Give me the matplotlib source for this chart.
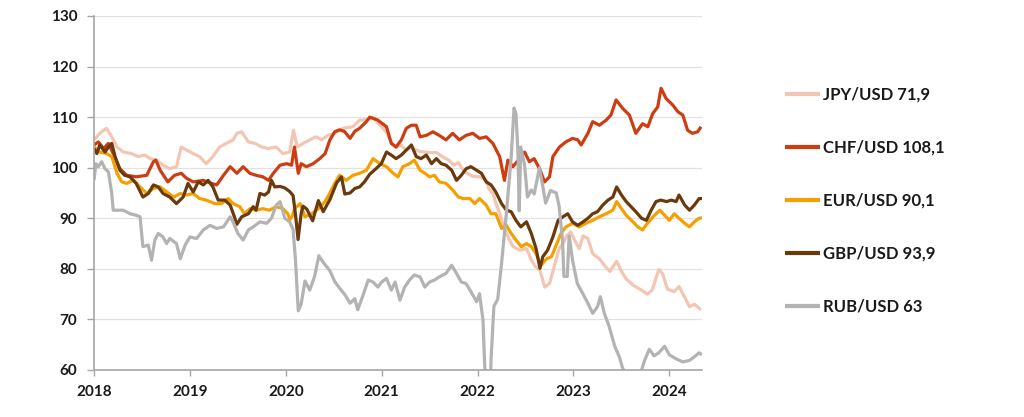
import numpy as np
import matplotlib
matplotlib.use("Agg")
import matplotlib.pyplot as plt

plt.rcParams['font.family'] = ['Lato', 'DejaVu Sans']
plt.rcParams['font.weight'] = 'bold'

# ---- data (time in years since 2018-01-01) ----
jpy_t = [0.00, 0.06, 0.13, 0.185, 0.24, 0.305, 0.39, 0.46, 0.53, 0.585, 0.65, 0.72, 0.79, 0.86, 0.91, 0.965,
         1.035, 1.10, 1.17, 1.24, 1.31, 1.38, 1.45, 1.49, 1.54, 1.61, 1.68, 1.75, 1.82, 1.90, 1.97, 2.04,
         2.08, 2.12, 2.18, 2.25, 2.29, 2.32, 2.37, 2.44, 2.51, 2.60, 2.70, 2.77, 2.84, 2.91, 2.98, 3.05,
         3.10, 3.15, 3.20, 3.25, 3.30, 3.40, 3.50, 3.57, 3.65, 3.70, 3.75, 3.80, 3.85, 3.88, 3.95, 4.02,
         4.09, 4.12, 4.16, 4.19, 4.23, 4.26, 4.30, 4.33, 4.37, 4.44, 4.51, 4.56, 4.60, 4.65, 4.70, 4.75,
         4.80, 4.85, 4.89, 4.93, 4.97, 5.01, 5.06, 5.10, 5.15, 5.20, 5.27, 5.33, 5.38, 5.45, 5.50, 5.55,
         5.62, 5.70, 5.77, 5.82, 5.89, 5.93, 5.98, 6.05, 6.10, 6.17, 6.21, 6.26, 6.33]
jpy_v = [105.5, 106.8, 107.8, 106.1, 104.1, 103.1, 102.8, 102.2, 102.5, 101.8, 101.5, 100.5, 99.8, 100.2, 104.1, 103.5,
         102.8, 102.2, 100.8, 102.2, 104.1, 104.8, 105.5, 106.8, 107.1, 105.1, 104.8, 104.1, 103.8, 104.1, 102.8, 103.1,
         107.4, 104.1, 104.8, 105.5, 105.9, 106.1, 105.5, 106.4, 106.8, 107.8, 108.1, 109.4, 109.5, 109.8, 108.5, 107.0,
         105.0, 104.0, 104.5, 103.5, 104.0, 103.2, 103.0, 103.0, 102.0, 101.5, 100.5, 101.0, 99.5, 99.0, 98.3, 98.2,
         97.5, 95.7, 94.9, 93.0, 91.0, 89.0, 87.0, 85.8, 84.4, 83.7, 84.0, 81.8, 80.5, 79.7, 76.4, 77.1,
         80.5, 84.0, 85.0, 86.5, 87.3, 85.7, 84.0, 86.5, 86.0, 83.0, 82.0, 80.5, 79.5, 81.5, 79.5, 78.0,
         76.8, 75.9, 75.0, 75.8, 79.9, 79.0, 76.0, 75.5, 76.5, 74.0, 72.5, 73.0, 71.9]

chf_t = [0.00, 0.045, 0.10, 0.15, 0.20, 0.27, 0.34, 0.44, 0.55, 0.62, 0.645, 0.69, 0.77, 0.84, 0.91, 0.965,
         1.035, 1.14, 1.225, 1.28, 1.35, 1.42, 1.49, 1.555, 1.625, 1.69, 1.76, 1.82, 1.87, 1.94, 2.01, 2.06,
         2.09, 2.13, 2.16, 2.215, 2.285, 2.354, 2.41, 2.46, 2.51, 2.56, 2.61, 2.67, 2.72, 2.77, 2.84, 2.875,
         2.92, 2.96, 3.05, 3.10, 3.15, 3.205, 3.257, 3.31, 3.36, 3.40, 3.465, 3.535, 3.60, 3.67, 3.74, 3.81,
         3.88, 3.95, 4.02, 4.09, 4.16, 4.23, 4.28, 4.316, 4.368, 4.438, 4.49, 4.54, 4.59, 4.646, 4.698, 4.75,
         4.785, 4.854, 4.92, 4.99, 5.045, 5.08, 5.15, 5.20, 5.27, 5.34, 5.39, 5.444, 5.514, 5.583, 5.65, 5.72,
         5.775, 5.826, 5.878, 5.913, 5.965, 6.035, 6.087, 6.14, 6.19, 6.24, 6.295, 6.33]
chf_v = [104.5, 105.1, 103.8, 104.8, 102.8, 99.8, 98.5, 98.2, 98.5, 101.2, 101.5, 99.5, 97.2, 98.5, 98.9, 97.9,
         97.2, 97.5, 96.9, 96.6, 98.5, 100.2, 98.9, 100.2, 98.9, 98.5, 98.2, 97.5, 98.9, 100.5, 100.8, 100.5,
         104.1, 98.9, 100.8, 100.2, 100.8, 101.8, 102.8, 105.5, 107.1, 107.5, 107.2, 105.8, 107.2, 107.8, 109.1, 110.0,
         109.7, 109.4, 108.1, 104.8, 104.1, 105.5, 107.8, 108.4, 108.4, 106.1, 106.4, 107.1, 106.4, 105.5, 106.8, 105.5,
         106.4, 106.8, 105.8, 106.1, 104.8, 102.2, 97.5, 101.5, 100.2, 101.8, 103.1, 101.2, 101.8, 99.8, 97.2, 98.2,
         102.2, 104.1, 105.1, 105.8, 105.5, 104.5, 106.8, 109.1, 108.4, 109.4, 110.4, 113.4, 111.7, 110.4, 106.8, 108.7,
         108.1, 110.7, 112.0, 115.7, 113.7, 112.4, 111.1, 110.4, 107.4, 106.8, 107.1, 108.1]

eur_t = [0.00, 0.06, 0.13, 0.185, 0.24, 0.29, 0.34, 0.41, 0.48, 0.55, 0.62, 0.69, 0.76, 0.83, 0.90, 0.965,
         1.035, 1.10, 1.17, 1.26, 1.33, 1.40, 1.45, 1.52, 1.57, 1.625, 1.69, 1.76, 1.83, 1.90, 1.97, 2.02,
         2.045, 2.07, 2.09, 2.15, 2.20, 2.27, 2.34, 2.41, 2.46, 2.51, 2.56, 2.63, 2.70, 2.77, 2.84, 2.91,
         2.98, 3.05, 3.12, 3.17, 3.22, 3.29, 3.34, 3.40, 3.45, 3.50, 3.55, 3.60, 3.67, 3.74, 3.80, 3.85,
         3.92, 3.97, 4.02, 4.09, 4.14, 4.19, 4.25, 4.30, 4.35, 4.40, 4.455, 4.51, 4.56, 4.61, 4.66, 4.72,
         4.77, 4.82, 4.87, 4.92, 4.99, 5.06, 5.13, 5.20, 5.27, 5.34, 5.41, 5.45, 5.50, 5.55, 5.62, 5.67,
         5.72, 5.77, 5.83, 5.90, 5.95, 6.00, 6.05, 6.10, 6.16, 6.21, 6.26, 6.31, 6.34]
eur_v = [104.1, 103.1, 102.8, 102.2, 98.9, 97.2, 96.9, 97.5, 96.2, 94.9, 95.9, 96.2, 95.2, 94.2, 94.9, 94.6,
         94.9, 93.9, 93.6, 92.9, 92.9, 93.9, 92.9, 92.3, 90.9, 91.9, 91.6, 91.9, 91.6, 92.3, 91.9, 90.9,
         89.8, 90.5, 91.9, 92.9, 90.3, 90.9, 91.9, 93.3, 95.0, 96.9, 98.5, 97.5, 98.5, 98.9, 99.5, 101.8,
         100.8, 100.2, 98.9, 98.2, 100.2, 100.8, 101.5, 99.5, 98.9, 98.2, 98.5, 97.2, 96.9, 95.6, 94.2, 93.9,
         93.9, 92.9, 93.9, 92.6, 90.9, 90.9, 88.0, 88.6, 87.0, 85.7, 84.4, 85.0, 84.4, 83.0, 80.7, 82.0,
         82.4, 84.7, 87.0, 88.3, 89.0, 88.3, 89.0, 89.6, 90.3, 90.9, 91.6, 93.3, 91.9, 90.6, 89.3, 88.3,
         87.7, 89.0, 90.3, 91.6, 90.6, 89.6, 90.9, 90.0, 89.0, 88.3, 89.3, 90.0, 90.1]

gbp_t = [0.00, 0.03, 0.06, 0.115, 0.15, 0.185, 0.22, 0.27, 0.32, 0.375, 0.44, 0.51, 0.566, 0.62, 0.67, 0.72,
         0.79, 0.86, 0.93, 0.98, 1.035, 1.087, 1.14, 1.19, 1.24, 1.295, 1.365, 1.42, 1.46, 1.49, 1.54, 1.61,
         1.66, 1.69, 1.73, 1.78, 1.82, 1.85, 1.885, 1.94, 1.99, 2.04, 2.076, 2.10, 2.128, 2.16, 2.18, 2.22,
         2.28, 2.34, 2.39, 2.46, 2.53, 2.58, 2.615, 2.67, 2.72, 2.77, 2.82, 2.875, 2.94, 2.996, 3.05, 3.10,
         3.15, 3.205, 3.257, 3.31, 3.36, 3.41, 3.465, 3.52, 3.57, 3.62, 3.67, 3.73, 3.78, 3.83, 3.88, 3.93,
         3.99, 4.04, 4.09, 4.14, 4.19, 4.25, 4.30, 4.35, 4.40, 4.45, 4.51, 4.56, 4.61, 4.65, 4.68, 4.73,
         4.785, 4.84, 4.89, 4.94, 4.99, 5.045, 5.10, 5.15, 5.20, 5.25, 5.305, 5.36, 5.41, 5.45, 5.50, 5.55,
         5.60, 5.65, 5.71, 5.76, 5.81, 5.86, 5.91, 5.97, 6.02, 6.07, 6.10, 6.16, 6.21, 6.26, 6.31, 6.34]
gbp_v = [103.8, 102.8, 104.5, 103.1, 104.1, 104.8, 102.2, 99.5, 98.5, 98.2, 96.9, 94.2, 94.9, 96.6, 96.2, 94.9,
         94.2, 92.9, 94.2, 96.9, 95.2, 97.2, 96.6, 97.5, 96.2, 93.6, 93.6, 92.6, 90.5, 88.8, 90.3, 90.9,
         92.3, 91.6, 94.9, 94.6, 95.2, 97.5, 96.2, 96.3, 96.0, 95.3, 94.5, 90.9, 85.8, 90.9, 92.4, 91.8,
         89.5, 93.5, 91.3, 93.7, 97.0, 98.2, 94.8, 95.0, 95.9, 96.2, 97.2, 98.7, 99.8, 100.8, 103.1, 102.5,
         101.8, 102.5, 103.5, 104.5, 102.2, 101.8, 102.5, 100.8, 101.8, 100.8, 100.5, 99.5, 97.5, 98.5, 99.8, 100.2,
         99.5, 98.9, 97.2, 96.6, 95.2, 92.9, 91.6, 91.3, 89.6, 88.3, 89.3, 87.0, 84.0, 80.1, 82.4, 83.7,
         86.3, 89.6, 90.3, 90.9, 89.3, 88.6, 89.3, 90.0, 90.9, 91.3, 92.6, 93.6, 94.2, 96.2, 94.6, 93.3,
         92.3, 91.3, 90.0, 89.6, 91.6, 93.3, 93.6, 93.3, 93.6, 93.3, 94.6, 92.6, 91.6, 92.6, 93.9, 93.9]

rub_t = [0.00, 0.02, 0.045, 0.08, 0.115, 0.15, 0.185, 0.20, 0.24, 0.305, 0.375, 0.44, 0.48, 0.51, 0.566, 0.60,
         0.635, 0.67, 0.72, 0.757, 0.79, 0.86, 0.90, 0.95, 1.00, 1.07, 1.14, 1.21, 1.28, 1.35, 1.42, 1.45,
         1.50, 1.555, 1.61, 1.66, 1.73, 1.80, 1.85, 1.90, 1.94, 1.99, 2.04, 2.076, 2.10, 2.13, 2.16, 2.20,
         2.25, 2.30, 2.345, 2.39, 2.46, 2.51, 2.56, 2.62, 2.67, 2.72, 2.75, 2.80, 2.86, 2.91, 2.96, 3.00,
         3.05, 3.10, 3.14, 3.19, 3.24, 3.29, 3.34, 3.40, 3.45, 3.50, 3.55, 3.60, 3.67, 3.73, 3.78, 3.83,
         3.88, 3.93, 3.99, 4.02, 4.056, 4.08, 4.11, 4.13, 4.14, 4.17, 4.21, 4.25, 4.30, 4.35, 4.38, 4.40,
         4.42, 4.434, 4.45, 4.49, 4.52, 4.56, 4.59, 4.645, 4.68, 4.71, 4.76, 4.82, 4.85, 4.885, 4.90, 4.935,
         4.955, 4.99, 5.04, 5.10, 5.15, 5.20, 5.25, 5.28, 5.32, 5.37, 5.43, 5.48, 5.51, 5.56, 5.69, 5.74,
         5.79, 5.84, 5.89, 5.95, 6.00, 6.07, 6.14, 6.21, 6.26, 6.31, 6.34]
rub_v = [97.5, 100.8, 100.2, 101.2, 99.8, 99.2, 94.9, 91.6, 91.6, 91.6, 90.9, 90.6, 90.3, 84.4, 84.7, 81.7,
         85.7, 87.0, 86.3, 85.0, 86.0, 85.0, 82.0, 84.7, 86.3, 86.0, 87.7, 88.6, 88.0, 88.3, 90.3, 89.3,
         87.0, 85.7, 87.7, 88.3, 89.3, 89.0, 90.0, 92.6, 93.3, 90.0, 89.3, 87.8, 82.0, 71.7, 73.0, 77.6,
         75.8, 78.5, 82.6, 81.3, 79.6, 77.5, 76.2, 74.8, 73.2, 74.1, 71.9, 74.5, 77.8, 77.4, 76.4, 77.4,
         78.1, 75.8, 77.4, 73.8, 76.4, 77.8, 78.8, 78.4, 76.4, 77.4, 77.8, 78.4, 79.1, 80.7, 79.1, 77.4,
         77.1, 75.5, 73.5, 75.1, 69.9, 58.0, 50.0, 55.0, 62.0, 72.6, 74.0, 81.1, 91.0, 102.0, 111.8, 110.7,
         103.5, 91.5, 104.1, 100.5, 94.2, 95.6, 94.8, 100.0, 96.3, 93.0, 95.5, 95.0, 92.4, 85.8, 78.5, 78.5,
         86.5, 81.7, 77.1, 75.0, 73.2, 71.2, 72.5, 74.5, 71.3, 68.7, 64.7, 62.5, 60.5, 58.5, 58.8, 61.8,
         64.1, 62.8, 63.4, 64.7, 63.0, 62.2, 61.6, 61.9, 62.6, 63.4, 63.0]

labels = ["JPY/USD 71,9", "CHF/USD 108,1", "EUR/USD 90,1", "GBP/USD 93,9", "RUB/USD 63"]
colors = ["#F3C6B3", "#CC3D12", "#F5A000", "#6B3A0C", "#B3B3B3"]
start_year = 2018
years = [2018, 2019, 2020, 2021, 2022, 2023, 2024]
yticks = [60, 70, 80, 90, 100, 110, 120, 130]

series = [(jpy_t, jpy_v), (chf_t, chf_v), (eur_t, eur_v), (gbp_t, gbp_v), (rub_t, rub_v)]

fig = plt.figure(figsize=(10.24, 4.17), dpi=100)
ax = fig.add_axes([94/1024, 1 - 370/417, (702 - 94)/1024, (370 - 16)/417])

for (t, v), c, lab in zip(series, colors, labels):
    ax.plot(start_year + np.array(t), v, color=c, lw=2.3, label=lab,
            solid_joinstyle='round', solid_capstyle='butt')

ax.set_ylim(60, 130)
ax.set_xlim(2018, 2024.34)
ax.set_yticks(yticks)
ax.set_xticks(years)
ax.set_xticklabels([str(y) for y in years])
ax.yaxis.grid(True, color='#E2E2E2', lw=0.9)
ax.set_axisbelow(True)
for s in ['top', 'right']:
    ax.spines[s].set_visible(False)
for s in ['left', 'bottom']:
    ax.spines[s].set_color('#A6A6A6')
    ax.spines[s].set_linewidth(1.2)
ax.tick_params(axis='y', length=5, color='#A6A6A6', width=1, pad=7, labelsize=11, labelcolor='#1a1a1a')
ax.tick_params(axis='x', length=4, color='#A6A6A6', width=1, pad=7, labelsize=11, labelcolor='#1a1a1a')
for lbl in ax.get_xticklabels() + ax.get_yticklabels():
    lbl.set_fontweight('bold')

leg = fig.legend(loc='upper left', bbox_to_anchor=(785/1024, 1 - 87/417), frameon=False,
                 handlelength=2.1, handletextpad=0.2, labelspacing=2.22, borderpad=0,
                 borderaxespad=0, prop={'family': ['Lato', 'DejaVu Sans'], 'weight': 'bold', 'size': 12})
for h in leg.get_lines():
    h.set_linewidth(3)
for txt in leg.get_texts():
    txt.set_color('#1a1a1a')

fig.savefig("out.png", dpi=100)
